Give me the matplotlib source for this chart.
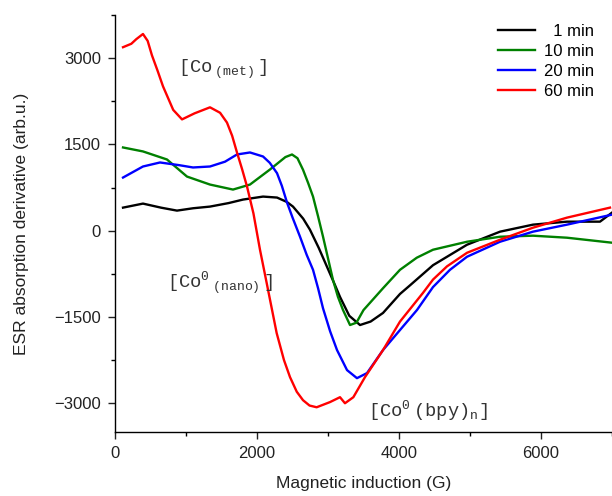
import matplotlib
matplotlib.use("Agg")
import matplotlib.pyplot as plt
from matplotlib.ticker import MultipleLocator

plt.rcParams['font.family'] = ['Liberation Sans', 'DejaVu Sans']
plt.rcParams['mathtext.fontset'] = 'custom'
plt.rcParams['mathtext.tt'] = 'Liberation Mono'
plt.rcParams['mathtext.rm'] = 'Liberation Mono'

# ---- data ----
x_1min = [113, 394, 650, 873, 1100, 1338, 1600, 1803, 2085, 2282, 2420, 2507, 2650, 2746,
          2870, 2986, 3100, 3169, 3300, 3451, 3600, 3775, 4014, 4155, 4479, 4958, 5423,
          5887, 6366, 6831, 7000]
y_1min = [401, 471, 400, 349, 390, 419, 480, 541, 593, 576, 500, 419, 210, 17,
          -300, -628, -950, -1151, -1480, -1640, -1580, -1430, -1100, -950, -600, -244, -17,
          105, 157, 157, 314]

x_10min = [113, 394, 732, 1014, 1338, 1662, 1901, 2183, 2400, 2493, 2570, 2648, 2720, 2789,
           2860, 2930, 3000, 3070, 3140, 3211, 3310, 3400, 3500, 3775, 4014, 4250, 4479,
           4958, 5423, 5887, 6366, 7000]
y_10min = [1447, 1378, 1238, 941, 802, 715, 802, 1064, 1280, 1325, 1260, 1060, 830, 593,
           250, -105, -480, -855, -1150, -1378, -1640, -1600, -1380, -1000, -680, -470, -331,
           -192, -105, -87, -122, -209]

x_20min = [113, 394, 634, 900, 1099, 1338, 1550, 1718, 1901, 2085, 2180, 2282, 2350, 2423,
           2500, 2606, 2700, 2789, 2860, 2930, 3030, 3127, 3268, 3408, 3549, 3775, 4014,
           4254, 4479, 4718, 4958, 5423, 5887, 6366, 7000]
y_20min = [924, 1116, 1186, 1140, 1099, 1116, 1200, 1325, 1360, 1290, 1180, 1000, 780, 488,
           230, -105, -420, -680, -1000, -1350, -1750, -2075, -2424, -2564, -2476, -2075, -1727,
           -1378, -980, -680, -453, -192, -17, 105, 279]

x_60min = [113, 230, 300, 394, 460, 520, 600, 676, 820, 944, 1120, 1338, 1480, 1577, 1650,
           1718, 1790, 1859, 1950, 2042, 2136, 2277, 2380, 2465, 2560, 2648, 2740, 2840,
           3028, 3169, 3239, 3357, 3521, 3775, 4014, 4338, 4479, 4676, 4958, 5423, 5887,
           6366, 6972]
y_60min = [3190, 3250, 3330, 3420, 3300, 3050, 2780, 2510, 2100, 1935, 2040, 2145, 2050, 1880,
           1650, 1360, 1070, 770, 300, -331, -907, -1780, -2250, -2546, -2800, -2947, -3040,
           -3070, -2980, -2895, -3000, -2895, -2546, -2075, -1580, -1081, -850, -620, -384,
           -157, 52, 227, 401]

labels = ['  1 min', '10 min', '20 min', '60 min']
colors = ['black', 'green', 'blue', 'red']

fig = plt.figure(figsize=(6.12, 4.96), dpi=100)
ax = fig.add_axes([115/612, 64/496, 497/612, 417/496])

for xs, ys, lab, c in zip([x_1min, x_10min, x_20min, x_60min],
                          [y_1min, y_10min, y_20min, y_60min], labels, colors):
    ax.plot(xs, ys, color=c, lw=1.7, label=lab, solid_joinstyle='round')

ax.set_xlim(0, 7000)
ax.set_ylim(-3500, 3750)
ax.xaxis.set_major_locator(MultipleLocator(2000))
ax.xaxis.set_minor_locator(MultipleLocator(1000))
ax.yaxis.set_major_locator(MultipleLocator(1500))
ax.yaxis.set_minor_locator(MultipleLocator(750))
ax.spines['top'].set_visible(False)
ax.spines['right'].set_visible(False)
for s in ['left', 'bottom']:
    ax.spines[s].set_linewidth(1.0)
ax.tick_params(which='major', direction='out', length=5, width=1, labelsize=12,
               colors='#222222', pad=5)
ax.tick_params(which='minor', direction='out', length=3, width=1)

ax.set_xlabel('Magnetic induction (G)', fontsize=12.5, color='#222222', labelpad=11)
ax.set_ylabel('ESR absorption derivative (arb.u.)', fontsize=12.5, color='#222222', labelpad=18)

leg = ax.legend(loc='upper right', frameon=False, fontsize=12, handlelength=2.2,
                labelspacing=0.3, handletextpad=0.55, borderaxespad=0, borderpad=0)
leg.set_bbox_to_anchor((594/612, 1 - 24/496), transform=fig.transFigure)

tc = '#333333'
ax.text(887, 2808, r'[Co$\,\mathtt{_{(met)}}\,$]', family='Liberation Mono', fontsize=13.5,
        color=tc, va='center', ha='left')
ax.text(732, -907, r'[Co$\mathtt{^{0}}\,\mathtt{_{(nano)}}\,$]', family='Liberation Mono',
        fontsize=13.5, color=tc, va='center', ha='left')
ax.text(3563, -3122, r'[Co$\mathtt{^{0}}\,$(bpy)$\mathtt{_{n}}$]', family='Liberation Mono',
        fontsize=13.5, color=tc, va='center', ha='left')

fig.savefig('out.png', dpi=100)
